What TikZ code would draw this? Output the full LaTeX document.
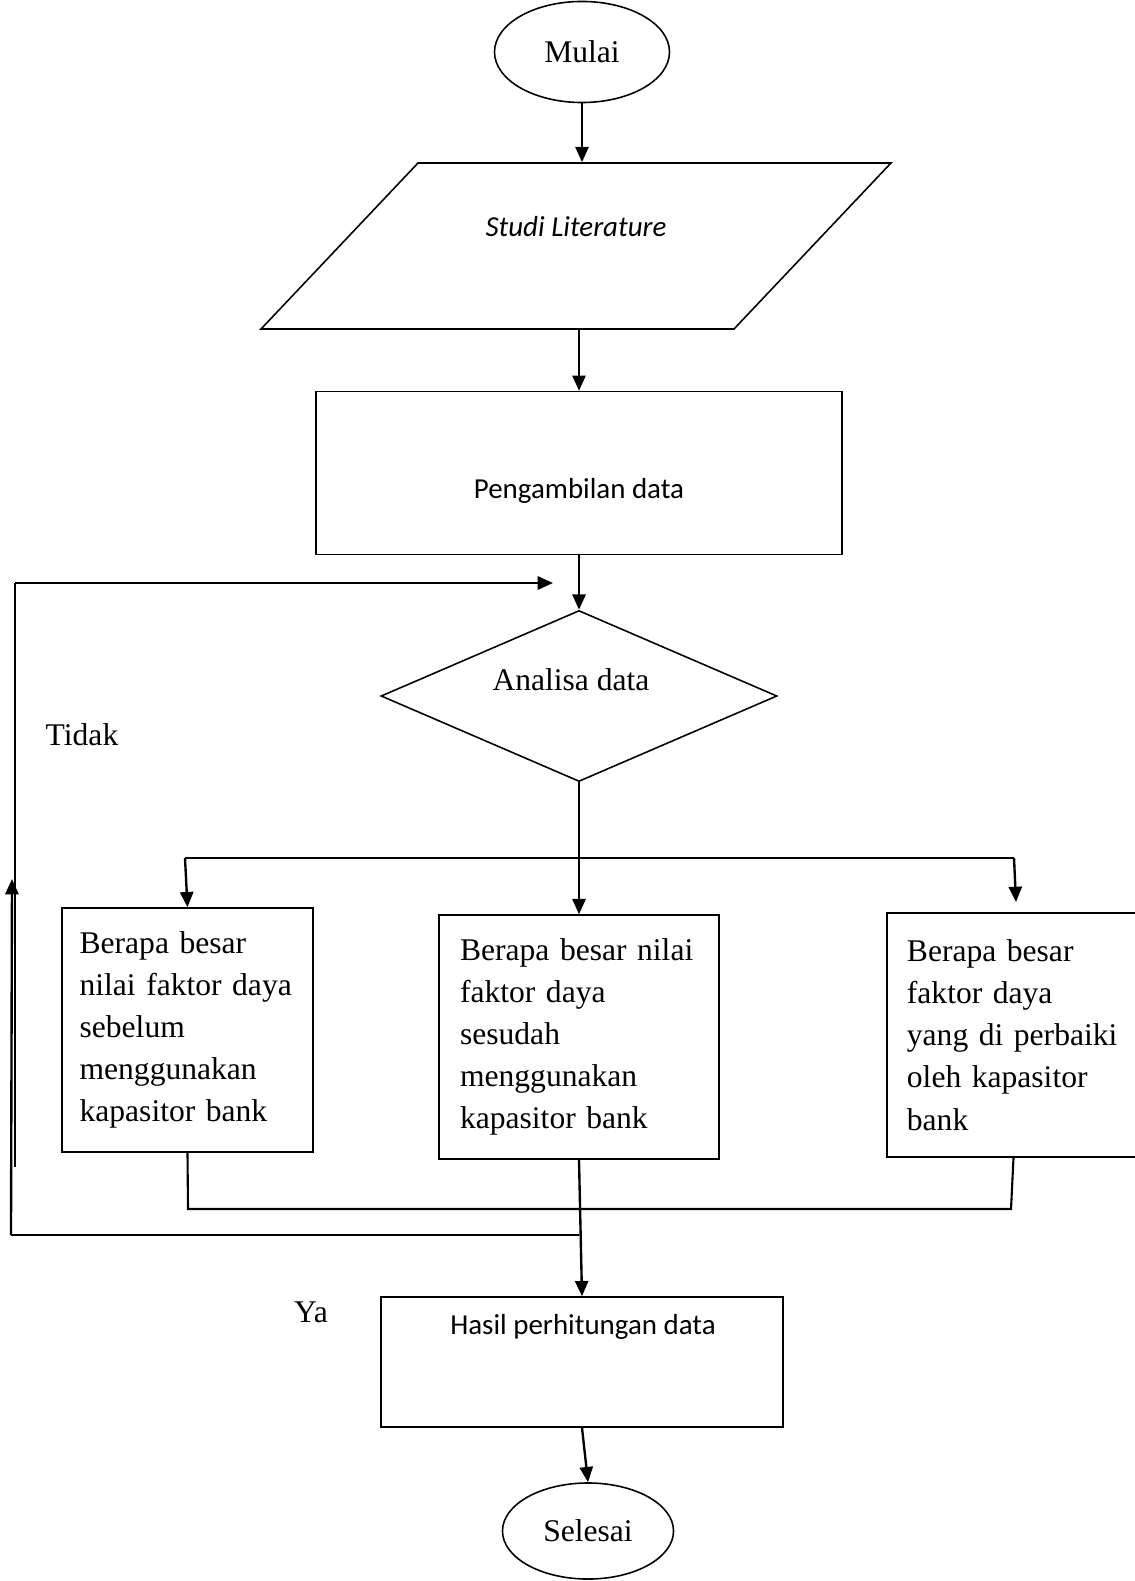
\documentclass[tikz,border=0pt]{standalone}
\usepackage{fontspec}
\setmainfont{Liberation Serif}
\newfontfamily\calibri{Carlito}
\usepackage{tikz}
\usetikzlibrary{shapes, arrows.meta}

\begin{document}
\begin{tikzpicture}[x=0.38pt, y=-0.38pt, >={Triangle[length=5.8pt, width=5pt]},
    line width=0.8pt, font=\fontsize{12}{16}\selectfont,
    kotak/.style={draw, rectangle, line width=0.6pt, inner xsep=8pt, minimum height=92.7pt, align=left},
    panah/.style={->, line width=0.9pt}]
    \useasboundingbox (0,0) rectangle (1135,1581);

    % 开始
    \node[ellipse, draw, line width=0.6pt, minimum width=66.5pt, minimum height=38.4pt] (mulai) at (582,52) {Mulai};

    % 文献
    \node[trapezium, draw, line width=0.6pt, trapezium left angle=46.6, trapezium right angle=133.4,
          trapezium stretches body, inner xsep=0pt, inner ysep=31.55pt, minimum width=239.4pt] (lit) at (576,246) {};
    \node[font=\calibri\itshape\fontsize{11}{13}\selectfont] (littxt) at (576,227) {Studi Literature};

    % 数据
    \node[draw, rectangle, line width=0.6pt, minimum width=199.9pt, minimum height=61.9pt] (peng) at (579,473) {};
    \node[font=\calibri\fontsize{11}{13}\selectfont] (pengtxt) at (579,491) {Pengambilan data};

    % 分析
    \node[diamond, draw, line width=0.6pt, inner sep=0pt, minimum width=150.5pt, minimum height=65pt] (ana) at (579,696) {};
    \node (anatxt) at (571,680) {Analisa data};
    \node (tidak) at (82,735) {Tidak};

    % 三个问题
    \node[kotak, inner xsep=6.7pt, text width=82pt] (box1) at (187.5,1030) {Berapa besar\\nilai faktor daya\\sebelum\\menggunakan\\kapasitor bank};
    \node[kotak, text width=90.4pt] (box2) at (579,1037) {Berapa besar nilai\\faktor daya\\sesudah\\menggunakan\\kapasitor bank};
    \node[kotak, inner xsep=7.5pt, text width=81pt] (box3) at (1013.5,1035) {Berapa besar\\faktor daya\\yang di perbaiki\\oleh kapasitor\\bank};

    % 结果
    \node (ya) at (311,1312) {Ya};
    \node[draw, rectangle, line width=0.6pt, minimum width=152.8pt, minimum height=49.4pt] (hasil) at (582,1362) {};
    \node[font=\calibri\fontsize{11}{13}\selectfont] (hasiltxt) at (583,1327) {Hasil perhitungan data};
    \node[ellipse, draw, line width=0.6pt, minimum width=65pt, minimum height=36.5pt] (selesai) at (588,1531) {Selesai};

    % 主线
    \draw[panah] (mulai.south) -- (mulai.south |- lit.north);
    \draw[panah] (lit.south -| peng.north) -- (peng.north);
    \draw[panah] (peng.south) -- (ana.north);

    % 分支
    \coordinate (brl) at (185,858);
    \coordinate (brr) at (1014,858);
    \coordinate (brrtip) at (1016,902);
    \draw (brl) -- (brr);
    \draw[panah] (ana.south) -- (box2.north);
    \draw[panah] (brl) -- (box1.north);
    \draw[panah] (brr) -- (brrtip);

    % 汇合
    \coordinate (mgl) at (188,1209);
    \coordinate (mgr) at (1011,1209);
    \draw (box1.south) -- (mgl) -- (mgr) -- (box3.south);
    \draw[panah] (box2.south) -- (hasil.north);
    \draw[panah] (hasil.south) -- (selesai.north);

    % 回路 (Tidak)
    \coordinate (lpbot) at (11,1235);
    \coordinate (lptip) at (12,879);
    \coordinate (lptop) at (15,583);
    \coordinate (lpend) at (15,1167);
    \coordinate (lphead) at (553,583);
    \draw (box2.south |- lpbot) -- (lpbot);
    \draw[panah] (lpbot) -- (lptip);
    \draw (lpend) -- (lptop);
    \draw[panah] (lptop) -- (lphead);
\end{tikzpicture}
\end{document}
